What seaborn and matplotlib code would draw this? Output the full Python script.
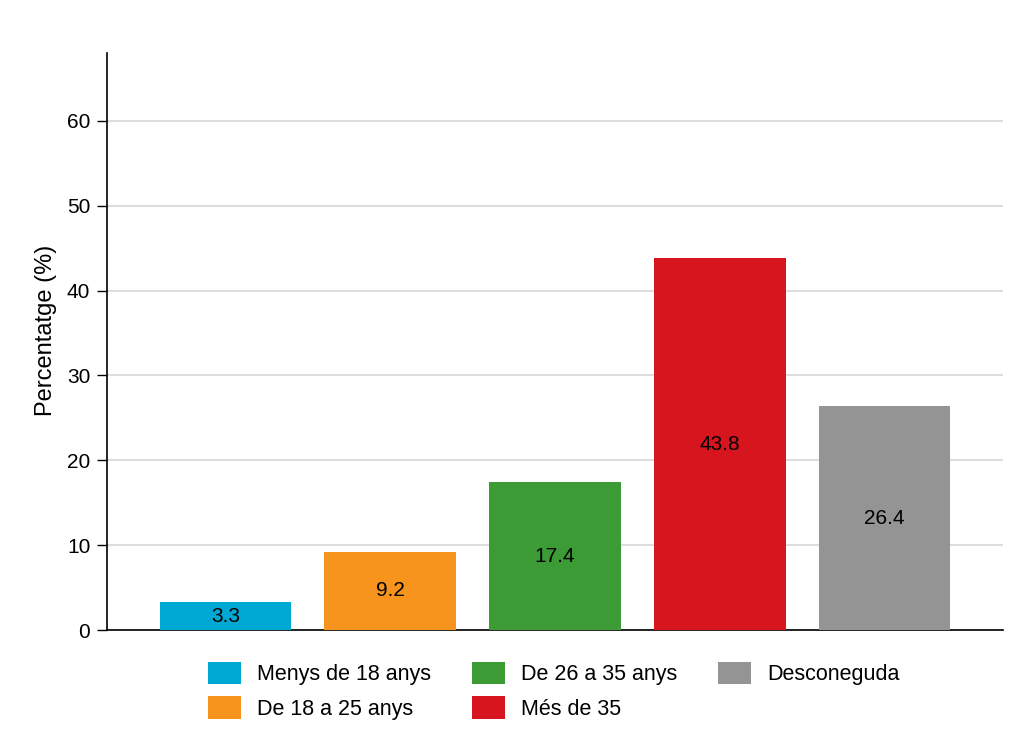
import matplotlib
matplotlib.use("Agg")
import matplotlib.pyplot as plt
import pandas as pd
import seaborn as sns

categories = ["Menys de 18 anys", "De 18 a 25 anys", "De 26 a 35 anys", "Més de 35", "Desconeguda"]
values = [3.3, 9.2, 17.4, 43.8, 26.4]
colors = ["#00A9D4", "#F7941D", "#3C9B35", "#D7151F", "#949494"]
y_ticks = [0, 10, 20, 30, 40, 50, 60]

sns.set_theme(style="white")
plt.rcParams["font.family"] = ["Liberation Sans", "DejaVu Sans"]
plt.rcParams["text.color"] = "black"
plt.rcParams["axes.labelcolor"] = "black"
plt.rcParams["ytick.color"] = "black"

df = pd.DataFrame({"grup": categories, "pct": values})

fig = plt.figure(figsize=(10.27, 7.47), dpi=100)
ax = fig.add_axes([0.1042, 0.1566, 0.8724, 0.7724])

sns.barplot(data=df, x="grup", y="pct", hue="grup", palette=colors,
            width=0.8, saturation=1, linewidth=0, legend=True, ax=ax, zorder=3)

for cont, v in zip(ax.containers, values):
    ax.bar_label(cont, labels=[f"{v:.1f}"], label_type="center", fontsize=15, color="black")

ax.set_ylim(0, 68)
ax.set_xlim(-0.72, 4.72)
ax.set_yticks(y_ticks)
ax.set_yticklabels([str(t) for t in y_ticks], fontsize=15)
ax.set_xticks([])
ax.set_xlabel("")
ax.set_ylabel("Percentatge (%)", fontsize=17)
ax.yaxis.set_label_coords(-0.056, 0.52)
ax.yaxis.grid(True, color="#dddddd", linewidth=1.5, zorder=0)
ax.set_axisbelow(True)
ax.tick_params(axis="y", direction="out", length=7, width=1, color="black", left=True, pad=5)
for side in ["top", "right"]:
    ax.spines[side].set_visible(False)
for side in ["left", "bottom"]:
    ax.spines[side].set_color("black")
    ax.spines[side].set_linewidth(1.2)

handles, labels = ax.get_legend_handles_labels()
ax.legend(handles, labels, ncol=3, loc="upper center", bbox_to_anchor=(0.499, -0.036),
          frameon=False, fontsize=15.5, handlelength=1.53, handleheight=1.25,
          columnspacing=1.9, labelspacing=0.5, handletextpad=0.75, borderpad=0)

fig.savefig("out.png", dpi=100)
